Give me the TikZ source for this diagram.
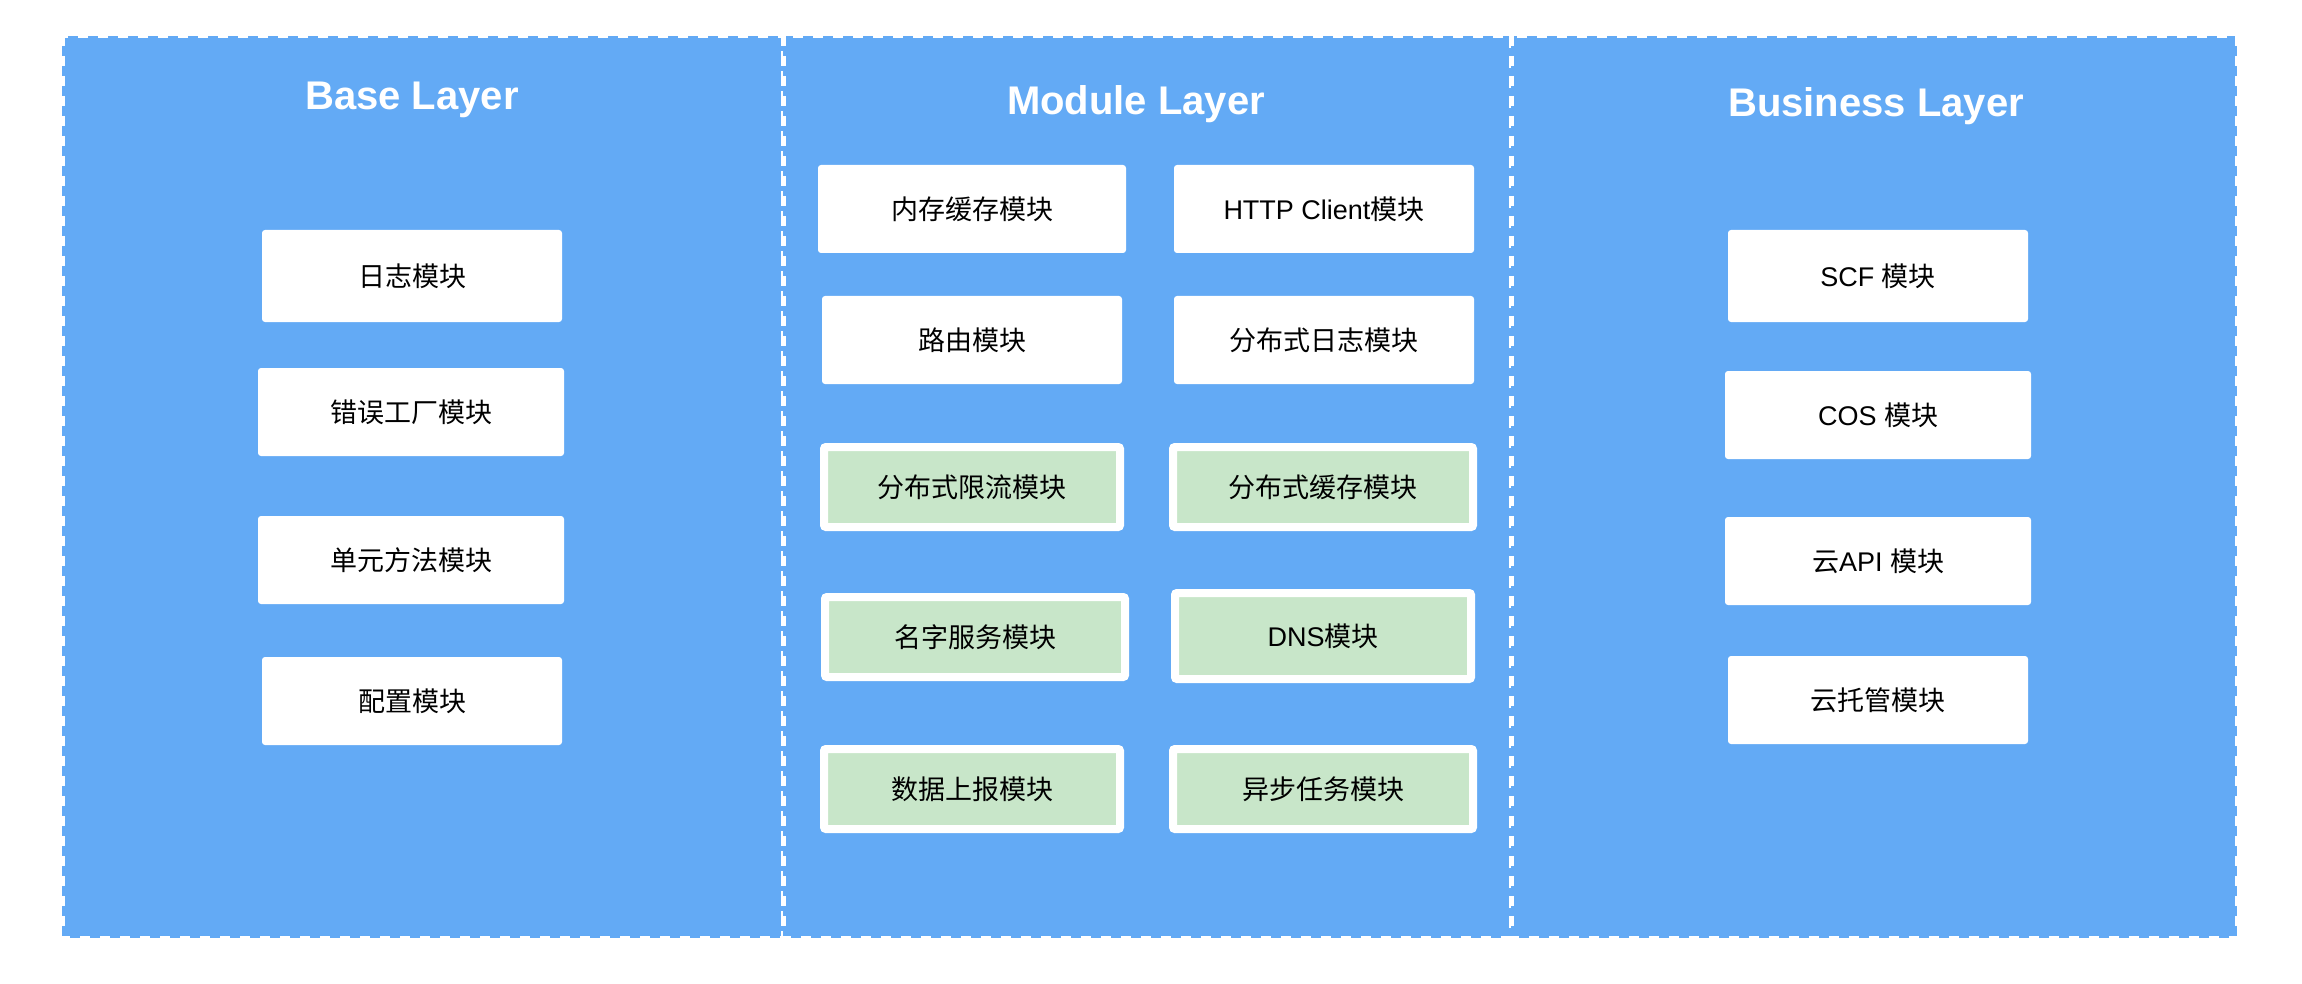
\documentclass[tikz,border=0pt]{standalone}
\usepackage{fontspec}
\setmainfont{Liberation Sans}
\newfontfamily\cjk{Noto Sans CJK SC}
\definecolor{LayerBlue}{HTML}{63AAF5}
\definecolor{ModGreen}{HTML}{C8E6C9}
\usetikzlibrary{positioning}

\tikzset{
  layerpanel/.style={fill=LayerBlue, draw=white, line width=2.5pt, dash pattern=on 5pt off 5pt},
  layertitle/.style={text=white, font=\fontsize{20}{24}\selectfont\bfseries},
  modbox/.style={fill=white, rounded corners=1.5pt, minimum width=150pt, minimum height=44pt,
    inner sep=0pt, font=\fontsize{13.5}{16}\selectfont},
  greenbox/.style={modbox, fill=ModGreen, draw=white, line width=4pt, rounded corners=1pt,
    minimum width=148pt, minimum height=40pt}
}

\begin{document}
\begin{tikzpicture}[x=0.5pt, y=-0.5pt]
  \useasboundingbox (0,0) rectangle (2302,984);

  % three layers
  \draw[layerpanel] (62,36) rectangle (783,938);
  \draw[layerpanel] (783,36) rectangle (1511,938);
  \draw[layerpanel] (1511,36) rectangle (2237,938);

  \node[layertitle] (basetitle) at (412,100) {Base Layer};
  \node[layertitle] (moduletitle) at (1136,104) {Module Layer};
  \node[layertitle] (businesstitle) at (1876,106) {Business Layer};

  % base layer
  \node[modbox, minimum height=46pt] (log) at (412,276) {\cjk 日志模块};
  \node[modbox, minimum width=153pt] (errfactory) at (411,412) {\cjk 错误工厂模块};
  \node[modbox, minimum width=153pt] (unittest) at (411,560) {\cjk 单元方法模块};
  \node[modbox] (config) at (412,701) {\cjk 配置模块};

  % module layer
  \node[modbox, minimum width=154pt] (memcache) at (972,209) {\cjk 内存缓存模块};
  \node[modbox] (httpclient) at (1324,209) {HTTP Client{\cjk 模块}};
  \node[modbox] (router) at (972,340) {\cjk 路由模块};
  \node[modbox] (distlog) at (1324,340) {\cjk 分布式日志模块};
  \node[greenbox] (ratelimit) at (972,487) {\cjk 分布式限流模块};
  \node[greenbox, minimum width=150pt] (distcache) at (1323,487) {\cjk 分布式缓存模块};
  \node[greenbox, minimum width=150pt] (naming) at (975,637) {\cjk 名字服务模块};
  \node[greenbox, minimum height=43pt] (dns) at (1323,636) {DNS{\cjk 模块}};
  \node[greenbox] (report) at (972,789) {\cjk 数据上报模块};
  \node[greenbox, minimum width=150pt] (asynctask) at (1323,789) {\cjk 异步任务模块};

  % business layer
  \node[modbox, minimum height=46pt] (scf) at (1878,276) {SCF {\cjk 模块}};
  \node[modbox, minimum width=153pt] (cos) at (1878,415) {COS {\cjk 模块}};
  \node[modbox, minimum width=153pt] (cloudapi) at (1878,561) {{\cjk 云}API {\cjk 模块}};
  \node[modbox] (hosting) at (1878,700) {\cjk 云托管模块};
\end{tikzpicture}
\end{document}
